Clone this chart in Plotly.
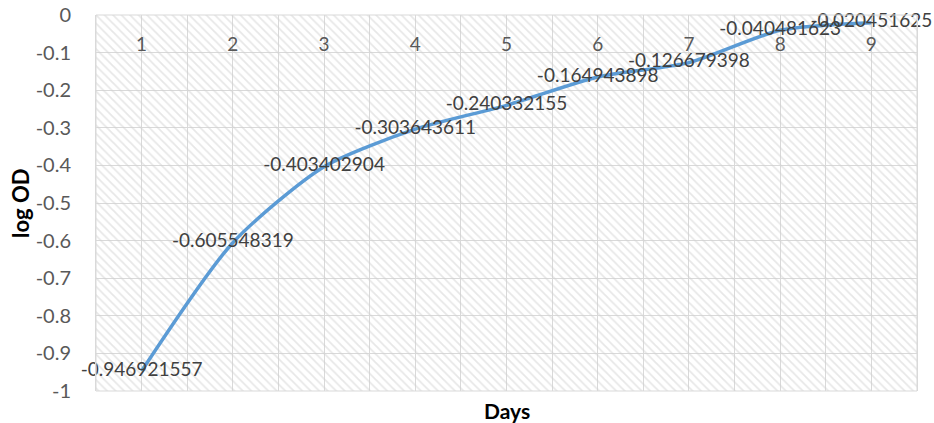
import plotly.graph_objects as go

# Growth curve: log optical density per day
days = [1, 2, 3, 4, 5, 6, 7, 8, 9]
log_od = [-0.946921557, -0.605548319, -0.403402904, -0.303643611, -0.240332155,
          -0.164943898, -0.126679398, -0.040481623, -0.020451625]
y_ticks = [0, -0.1, -0.2, -0.3, -0.4, -0.5, -0.6, -0.7, -0.8, -0.9, -1]
y_tick_text = ["0", "-0.1", "-0.2", "-0.3", "-0.4", "-0.5", "-0.6", "-0.7", "-0.8", "-0.9", "-1"]

FONT = "Lato, 'Open Sans', sans-serif"
GRID = "#d9d9d9"
x_lo, x_hi = days[0] - 0.5, days[-1] + 0.5
y_lo, y_hi = min(y_ticks), max(y_ticks)

fig = go.Figure()

# Hatched plot-area fill
fig.add_trace(go.Bar(
    x=[(x_lo + x_hi) / 2], y=[y_hi - y_lo], base=[y_lo], width=[x_hi - x_lo],
    marker=dict(color="rgba(0,0,0,0)", line=dict(width=0),
                pattern=dict(shape="\\", fgcolor="#d0d0d0", bgcolor="rgba(0,0,0,0)",
                             size=6, solidity=0.3)),
    hoverinfo="skip", showlegend=False,
))

fig.add_trace(go.Scatter(
    x=days, y=log_od, mode="lines+text",
    line=dict(color="#5b9bd5", width=3.5, shape="spline", smoothing=0.7),
    text=[f"{v:.9f}" for v in log_od], textposition="middle center",
    textfont=dict(family=FONT, size=19, color="#404040"),
    cliponaxis=False, showlegend=False,
))

fig.update_layout(
    width=934, height=423,
    margin=dict(l=96, r=17, t=15, b=32, autoexpand=False),
    paper_bgcolor="white", plot_bgcolor="white",
    font=dict(family=FONT, color="#595959"),
    bargap=0,
    # category axis sits at y = 0 (top edge), labels hang below it
    xaxis=dict(
        range=[x_lo, x_hi], side="bottom", anchor="free", position=1,
        tickvals=days, ticktext=[str(d) for d in days],
        ticks="", ticklabelstandoff=16, automargin=False,
        tickfont=dict(family=FONT, size=19, color="#595959"),
        showgrid=True, gridcolor=GRID, gridwidth=1,
        minor=dict(dtick=0.5, tick0=0.5, showgrid=True, gridcolor=GRID, gridwidth=1),
        showline=False, zeroline=False,
    ),
    yaxis=dict(
        range=[y_lo, y_hi], tickvals=y_ticks, ticktext=y_tick_text, ticks="",
        ticklabelstandoff=20, automargin=False,
        tickfont=dict(family=FONT, size=20, color="#595959"),
        showgrid=True, gridcolor=GRID, gridwidth=1,
        showline=True, linecolor=GRID, linewidth=1, mirror=True, zeroline=False,
    ),
    shapes=[dict(type="rect", xref="paper", yref="paper", x0=0, x1=1, y0=0, y1=1,
                 line=dict(color=GRID, width=1), fillcolor="rgba(0,0,0,0)", layer="above")],
    annotations=[
        dict(text="<b>Days</b>", xref="paper", yref="paper", x=0.5, y=0,
             yshift=-19, xanchor="center", yanchor="middle", showarrow=False,
             font=dict(family=FONT, size=21, color="#000000")),
        dict(text="<b>log OD</b>", xref="paper", yref="paper", x=0, y=0.5,
             xshift=-76, xanchor="center", yanchor="middle", textangle=-90,
             showarrow=False, font=dict(family=FONT, size=22, color="#000000")),
    ],
)

fig.write_html("out.html")
